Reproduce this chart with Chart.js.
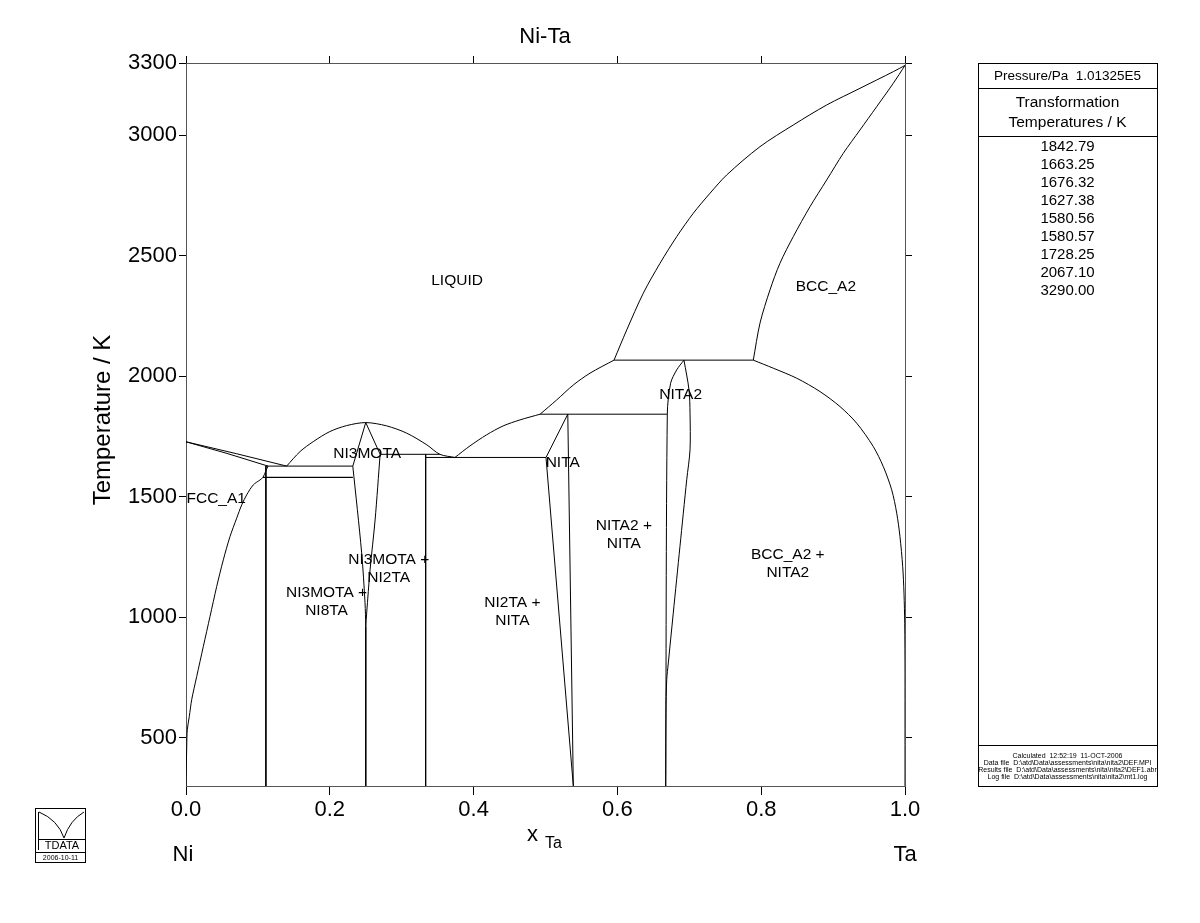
<!DOCTYPE html>
<html>
<head>
<meta charset="utf-8">
<title>Ni-Ta</title>
<script src="https://cdn.jsdelivr.net/npm/chart.js@4.4.1/dist/chart.umd.min.js"></script>
<style>
  html, body { margin: 0; padding: 0; background: #fff; }
  #wrap { width: 1200px; height: 923px; }
</style>
</head>
<body>
<div id="wrap"><canvas id="phase" width="1200" height="923"></canvas></div>
<script>
// ticks
const xTicks = [0, 0.2, 0.4, 0.6, 0.8, 1.0];
const yTicks = [500, 1000, 1500, 2000, 2500, 3000, 3300];

// transformation temperatures listed in the side panel
const invariantTemps = [1842.79, 1663.25, 1676.32, 1627.38, 1580.56, 1580.57, 1728.25, 2067.10, 3290.00];

// phase boundaries, [x Ta, T / K]
const liqFcc = [[0, 1728.25], [0.07, 1679], [0.14, 1627.38]];
const solFcc = [[0, 1728.25], [0.057, 1680], [0.114, 1627.38]];
const fccSolvus = [[0.114, 1627.38], [0.107, 1580.56], [0.103, 1570], [0.0936, 1549.5], [0.0844, 1508],
  [0.0775, 1466.6], [0.0705, 1411.4], [0.0612, 1335], [0.0519, 1238.4], [0.0427, 1127.7], [0.0334, 1003.3],
  [0.0241, 878.8], [0.0149, 754.4], [0.0079, 657.7], [0.0046, 588.4], [0.0018, 533.3], [0.001, 464], [0, 300]];
const liqNi3Ta = [[0.14, 1627.38], [0.1586, 1687.7], [0.177, 1729], [0.2, 1770.6], [0.2235, 1795.5],
  [0.25, 1808], [0.279, 1794.3], [0.307, 1764], [0.335, 1715.5], [0.353, 1676.32], [0.374, 1663.25]];
const solNi3Ta = [[0.232, 1627.38], [0.25, 1808], [0.27, 1676.32]];
const ni3TaLeft = [[0.232, 1627.38], [0.2443, 1267.5], [0.249, 1060], [0.25, 962]];
const ni3TaRight = [[0.27, 1676.32], [0.263, 1404], [0.256, 1197], [0.2513, 1018], [0.25, 962]];
const ni3TaLow = [[0.25, 962], [0.25, 300]];
const ni8Ta = [[0.1111, 1627.38], [0.1111, 300]];
const ni2Ta = [[0.3333, 1676.32], [0.3333, 300]];
const liqNiTa = [[0.374, 1663.25], [0.395, 1711.3], [0.418, 1757], [0.441, 1794], [0.4645, 1819], [0.4925, 1842.79]];
const liqNiTa2 = [[0.4925, 1842.79], [0.5156, 1902], [0.5387, 1964], [0.5619, 2013], [0.5953, 2067.1]];
const liqBcc = [[0.5953, 2067.1], [0.613, 2192.5], [0.636, 2344.7], [0.6593, 2469], [0.6825, 2579.5],
  [0.7056, 2676.6], [0.7288, 2759.5], [0.752, 2835.4], [0.7983, 2952.8], [0.8446, 3042.8], [0.8911, 3125.8],
  [0.9374, 3195], [0.9837, 3264], [1, 3290]];
const solBcc = [[0.789, 2067.1], [0.7983, 2220.3], [0.8122, 2358.4], [0.8261, 2469.2], [0.8446, 2579.5],
  [0.8679, 2703.9], [0.8911, 2814.7], [0.9142, 2925.4], [0.9374, 3022.1], [0.9606, 3118.7], [0.9837, 3215.8], [1, 3290]];
const bccSolvus = [[0.789, 2067.1], [0.8168, 2033.6], [0.8494, 1992], [0.8818, 1936.6], [0.9096, 1874.3],
  [0.9328, 1805.5], [0.9559, 1708.4], [0.9698, 1625.4], [0.9815, 1528.8], [0.9885, 1432], [0.993, 1335],
  [0.9968, 1210.6], [0.9986, 1100], [0.9996, 975.6], [1, 768], [1, 300]];
const niTaSol = [[0.5007, 1663.25], [0.531, 1842.79]];
const niTaLeft = [[0.5007, 1663.25], [0.5387, 300]];
const niTaRight = [[0.531, 1842.79], [0.5387, 300]];
const niTa2Left = [[0.6926, 2067.1], [0.6825, 2026.6], [0.674, 1971], [0.6694, 1842.79], [0.6672, 300]];
const niTa2Right = [[0.6926, 2067.1], [0.6996, 1943.6], [0.701, 1847], [0.701, 1694.7], [0.6964, 1570.3],
  [0.687, 1293.6], [0.6777, 1017.4], [0.6708, 810], [0.6686, 740.7], [0.6675, 600], [0.6672, 300]];

// invariant lines: [T, x from, x to]
const invariantLines = [
  [1842.79, 0.4925, 0.6694],
  [1663.25, 0.3333, 0.5007],
  [1676.32, 0.27, 0.353],
  [1627.38, 0.1111, 0.232],
  [1580.56, 0.107, 0.232],
  [1580.57, 0.107, 0.232],
  [2067.10, 0.5953, 0.789]
];

// phase field names: lines, x, T of first line
const phaseLabels = [
  [["LIQUID"], 0.377, 2396],
  [["BCC_A2"], 0.89, 2371],
  [["NITA2"], 0.688, 1923],
  [["NI3MOTA"], 0.252, 1678],
  [["NITA"], 0.524, 1641],
  [["FCC_A1"], 0.042, 1490],
  [["NI3MOTA +", "NI2TA"], 0.282, 1238],
  [["NI3MOTA +", "NI8TA"], 0.1955, 1101],
  [["NI2TA +", "NITA"], 0.454, 1059],
  [["NITA2 +", "NITA"], 0.609, 1381],
  [["BCC_A2 +", "NITA2"], 0.837, 1259]
];

const FONT = '"Liberation Sans", Arial, Helvetica, sans-serif';
Chart.defaults.font.family = FONT;

const curves = [liqFcc, solFcc, fccSolvus, liqNi3Ta, solNi3Ta, ni3TaLeft, ni3TaRight, ni3TaLow, ni8Ta, ni2Ta,
  liqNiTa, liqNiTa2, liqBcc, solBcc, bccSolvus, niTaSol, niTaLeft, niTaRight, niTa2Left, niTa2Right];

const datasets = curves.map(pts => ({
  data: pts.map(p => ({ x: p[0], y: p[1] })),
  showLine: true,
  borderColor: "#000",
  borderWidth: 1,
  pointRadius: 0,
  tension: pts.length > 3 ? 0.3 : 0
}));
invariantLines.forEach(l => {
  datasets.push({
    data: [{ x: l[1], y: l[0] }, { x: l[2], y: l[0] }],
    showLine: true,
    borderColor: "#000",
    borderWidth: 1,
    pointRadius: 0
  });
});

function textFont(size) {
  return size + "px " + FONT;
}

const drawExtras = {
  id: "drawExtras",
  afterDraw(chart) {
    const ctx = chart.ctx;
    const sx = chart.scales.x, sy = chart.scales.y;
    ctx.save();
    ctx.fillStyle = "#000";
    ctx.strokeStyle = "#000";

    // title and axis names
    ctx.textAlign = "center";
    ctx.textBaseline = "middle";
    ctx.font = textFont(22);
    ctx.fillText("Ni-Ta", 545, 37);
    ctx.fillText("Ni", 183, 855);
    ctx.fillText("Ta", 905, 855);

    ctx.textAlign = "left";
    ctx.textBaseline = "alphabetic";
    ctx.font = textFont(22);
    ctx.fillText("x", 527, 841);
    ctx.font = textFont(16);
    ctx.fillText("Ta", 545, 848);

    ctx.save();
    ctx.translate(103, 420);
    ctx.rotate(-Math.PI / 2);
    ctx.textAlign = "center";
    ctx.textBaseline = "middle";
    ctx.font = textFont(24);
    ctx.fillText("Temperature / K", 0, 0);
    ctx.restore();

    // phase fields
    ctx.textAlign = "center";
    ctx.textBaseline = "middle";
    ctx.font = textFont(15.5);
    phaseLabels.forEach(([lines, x, t]) => {
      const px = sx.getPixelForValue(x);
      const py = sy.getPixelForValue(t);
      lines.forEach((s, i) => ctx.fillText(s, px, py + i * 18));
    });

    // side panel
    const bx = 978, bw = 179, top = chart.chartArea.top, bottom = chart.chartArea.bottom;
    ctx.lineWidth = 1;
    ctx.strokeRect(bx + 0.5, top + 0.5, bw, bottom - top);
    [88, 136, 745].forEach(y => {
      ctx.beginPath();
      ctx.moveTo(bx, y + 0.5);
      ctx.lineTo(bx + bw, y + 0.5);
      ctx.stroke();
    });
    const cx = bx + bw / 2;
    ctx.font = textFont(13.5);
    ctx.fillText("Pressure/Pa  1.01325E5", cx, 76);
    ctx.font = textFont(15.5);
    ctx.fillText("Transformation", cx, 103);
    ctx.fillText("Temperatures / K", cx, 123);
    ctx.font = textFont(15);
    invariantTemps.forEach((t, i) => ctx.fillText(t.toFixed(2), cx, 147 + i * 18));

    ctx.font = textFont(7);
    ["Calculated  12:52:19  11-OCT-2006",
     "Data file  D:\\atd\\Data\\assessments\\nita\\nita2\\DEF.MPI",
     "Results file  D:\\atd\\Data\\assessments\\nita\\nita2\\DEF1.abr",
     "Log file  D:\\atd\\Data\\assessments\\nita\\nita2\\mt1.log"]
      .forEach((s, i) => ctx.fillText(s, cx, 756 + i * 7));

    // logo
    ctx.strokeRect(35.5, 808.5, 50, 54);
    ctx.beginPath();
    ctx.moveTo(35.5, 852.5);
    ctx.lineTo(85.5, 852.5);
    ctx.stroke();
    ctx.beginPath();
    ctx.moveTo(39, 812);
    ctx.quadraticCurveTo(58, 820, 64, 838);
    ctx.quadraticCurveTo(70, 820, 84, 812);
    ctx.stroke();
    ctx.beginPath();
    ctx.moveTo(38.5, 812);
    ctx.lineTo(38.5, 850);
    ctx.moveTo(38.5, 839.5);
    ctx.lineTo(85, 839.5);
    ctx.stroke();
    ctx.font = textFont(11);
    ctx.fillText("TDATA", 62, 846);
    ctx.font = textFont(7);
    ctx.fillText("2006-10-11", 60.5, 858);
    ctx.restore();
  }
};

const axisColor = "#555";
function edge(pos, size, withTicks) {
  const horiz = pos === "top" || pos === "bottom";
  return {
    type: "linear",
    position: pos,
    min: horiz ? 0 : 300,
    max: horiz ? 1 : 3300,
    afterFit(s) { if (horiz) s.height = size; else s.width = size; },
    afterBuildTicks(s) { s.ticks = (horiz ? xTicks : yTicks).map(v => ({ value: v })); },
    ticks: {
      display: withTicks,
      color: "#000",
      font: { size: 22 },
      padding: 2,
      autoSkip: false,
      maxRotation: 0,
      callback: v => horiz ? v.toFixed(1) : String(v)
    },
    grid: { drawOnChartArea: false, drawTicks: true, tickLength: pos === "bottom" ? 9 : 7, color: "#000" },
    border: { display: true, color: axisColor, width: 1 }
  };
}

new Chart(document.getElementById("phase"), {
  type: "scatter",
  data: { datasets: datasets },
  options: {
    responsive: false,
    animation: false,
    devicePixelRatio: 1,
    layout: { padding: 0 },
    plugins: { legend: { display: false }, tooltip: { enabled: false }, title: { display: false } },
    scales: {
      x: edge("bottom", 137, true),
      y: edge("left", 186, true),
      x2: edge("top", 63, false),
      y2: edge("right", 295, false)
    }
  },
  plugins: [drawExtras]
});
</script>
</body>
</html>
